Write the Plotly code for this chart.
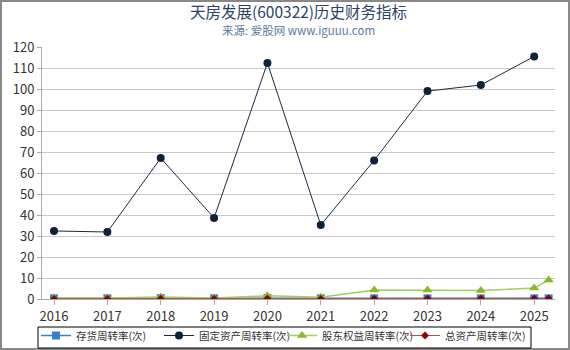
import plotly.graph_objects as go

years = [2016, 2017, 2018, 2019, 2020, 2021, 2022, 2023, 2024, 2025, 2025.27]
tick_labels = ["2016", "2017", "2018", "2019", "2020", "2021", "2022", "2023", "2024", "2025"]
inventory = [0.3, 0.3, 0.4, 0.3, 0.4, 0.3, 0.3, 0.3, 0.3, 0.3, 0.3]
fixed_assets = [32.4, 31.9, 67.1, 38.6, 112.4, 35.2, 66.0, 99.0, 101.9, 115.5]
equity = [0.5, 0.5, 1.0, 0.5, 1.5, 0.8, 4.3, 4.3, 4.0, 5.2, 9.0]
total_assets = [0.1, 0.1, 0.2, 0.1, 0.2, 0.1, 0.2, 0.2, 0.2, 0.2, 0.3]

fig = go.Figure()
fig.add_trace(go.Scatter(x=years, y=inventory, name="存货周转率(次)", mode="lines+markers",
                         line=dict(color="#3a7fd5", width=1.5),
                         marker=dict(symbol="square", size=8, color="#3a7fd5")))
fig.add_trace(go.Scatter(x=years[:10], y=fixed_assets, name="固定资产周转率(次)", mode="lines+markers",
                         line=dict(color="#1a2a40", width=1),
                         marker=dict(symbol="circle", size=8, color="#0f2238")))
fig.add_trace(go.Scatter(x=years, y=equity, name="股东权益周转率(次)", mode="lines+markers",
                         line=dict(color="#a6cc5a", width=1.5),
                         marker=dict(symbol="triangle-up", size=9, color="#8ab82a")))
fig.add_trace(go.Scatter(x=years, y=total_assets, name="总资产周转率(次)", mode="lines+markers",
                         line=dict(color="#b05050", width=1),
                         marker=dict(symbol="diamond", size=6, color="#8b0000")))

PW, PH = 513, 252
fig.update_layout(
    width=570, height=350,
    margin=dict(l=42, r=15, t=47, b=51, autoexpand=False),
    paper_bgcolor="white", plot_bgcolor="white",
    font=dict(family="Noto Sans CJK SC, DejaVu Sans", color="#333333"),
    annotations=[
        dict(text="天房发展(600322)历史财务指标", x=0.5, xref="paper", xanchor="center",
             y=(299 - 11) / PH, yref="paper", yanchor="middle", showarrow=False,
             font=dict(size=15.5, color="#2b4466")),
        dict(text="来源: 爱股网 www.iguuu.com", x=0.5, xref="paper", xanchor="center",
             y=(299 - 29.5) / PH, yref="paper", yanchor="middle", showarrow=False,
             font=dict(size=11.5, color="#5b7aa0")),
    ],
    xaxis=dict(range=[2015.775, 2025.39], tickvals=years[:10], ticktext=tick_labels,
               showgrid=False, showline=True, linecolor="#aaaaaa", ticks="outside", tickcolor="#aaaaaa",
               ticklen=5, tickfont=dict(size=13, color="#333333"), zeroline=False),
    yaxis=dict(range=[0, 120], dtick=10, showgrid=True, gridcolor="#c8c8c8", showline=True,
               linecolor="#aaaaaa", ticks="outside", tickcolor="#aaaaaa", ticklen=4,
               tickfont=dict(size=13, color="#333333"), zeroline=False),
    legend=dict(orientation="h", x=-6 / PW, xanchor="left", y=-22 / PH, yanchor="top",
                bgcolor="rgba(0,0,0,0)", borderwidth=0, font=dict(size=10.5, color="#333333"),
                itemwidth=30, entrywidth=78, entrywidthmode="pixels", tracegroupgap=0),
    shapes=[
        dict(type="rect", xref="paper", yref="paper", x0=-41/PW, x1=1+14/PW, y0=-50/PH, y1=1+46/PH,
             line=dict(color="#888888", width=2)),
        dict(type="rect", xref="paper", yref="paper", x0=-4/PW, x1=489/PW, y0=-49/PH, y1=-28/PH,
             line=dict(color="#000000", width=1)),
    ],
)
fig.write_html("out.html")
